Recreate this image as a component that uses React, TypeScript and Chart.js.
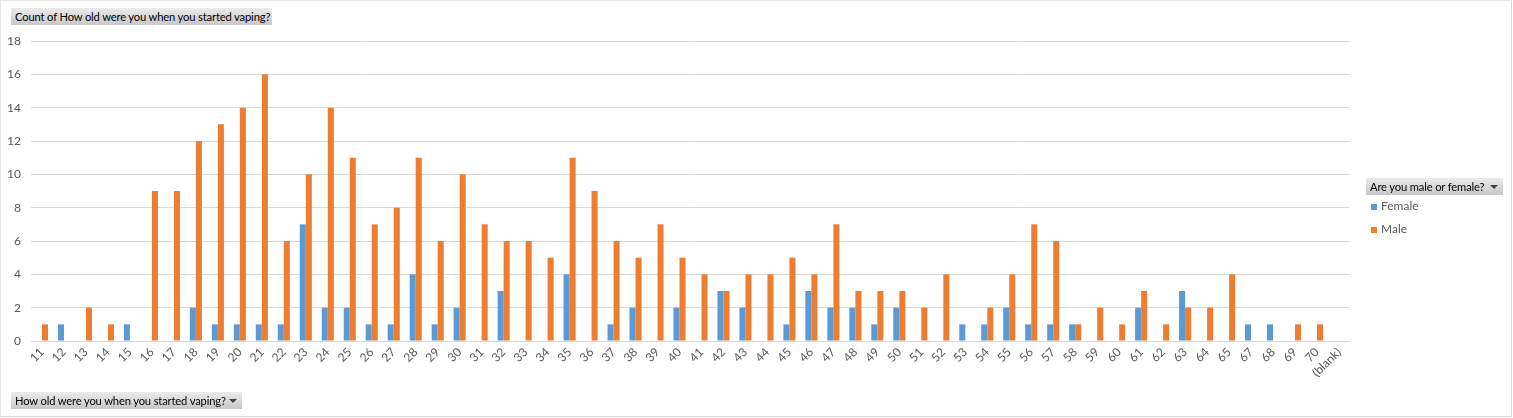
import React, { useEffect, useRef } from "react";
import { Chart, registerables } from "chart.js";

Chart.register(...registerables);

const categories: string[] = [
  "11","12","13","14","15","16","17","18","19","20",
  "21","22","23","24","25","26","27","28","29","30",
  "31","32","33","34","35","36","37","38","39","40",
  "41","42","43","44","45","46","47","48","49","50",
  "51","52","53","54","55","56","57","58","59","60",
  "61","62","63","64","65","67","68","69","70","(blank)",
];

const femaleValues: (number | null)[] = [
  null,1,null,null,1,null,null,2,1,1,
  1,1,7,2,2,1,1,4,1,2,
  null,3,null,null,4,null,1,2,null,2,
  null,3,2,null,1,3,2,2,1,2,
  null,null,1,1,2,1,1,1,null,null,
  2,null,3,null,null,1,1,null,null,null,
];

const maleValues: (number | null)[] = [
  1,null,2,1,null,9,9,12,13,14,
  16,6,10,14,11,7,8,11,6,10,
  7,6,6,5,11,9,6,5,7,5,
  4,3,4,4,5,4,7,3,3,3,
  2,4,null,2,4,7,6,1,2,1,
  3,1,2,2,4,null,null,1,1,null,
];

const yTicks: number[] = [0, 2, 4, 6, 8, 10, 12, 14, 16, 18];

const seriesNames: string[] = ["Female", "Male"];
const seriesColors: string[] = ["#5b9bd5", "#ed7d31"];

const titleText = "Count of How old were you when you started vaping?";
const axisFieldText = "How old were you when you started vaping?";
const legendFieldText = "Are you male or female?";

const FONT = "Lato, 'Liberation Sans', Arial, sans-serif";

const buttonStyle: React.CSSProperties = {
  position: "absolute",
  background: "linear-gradient(#ebebeb, #c8c8c8)",
  color: "#000",
  fontFamily: FONT,
  fontSize: 11.2,
  letterSpacing: -0.15,
  lineHeight: "17px",
  height: 17,
  boxSizing: "border-box",
  paddingLeft: 4,
  whiteSpace: "nowrap",
  overflow: "hidden",
};

const Arrow = () => (
  <span
    style={{
      position: "absolute",
      right: 5,
      top: 7,
      width: 0,
      height: 0,
      borderLeft: "4px solid transparent",
      borderRight: "4px solid transparent",
      borderTop: "4px solid #404040",
    }}
  />
);

export default function App() {
  const canvasRef = useRef<HTMLCanvasElement | null>(null);

  useEffect(() => {
    document.body.style.margin = "0";
    const canvas = canvasRef.current;
    if (!canvas) return;
    const chart = new Chart(canvas, {
      type: "bar",
      data: {
        labels: categories,
        datasets: [
          {
            label: seriesNames[0],
            data: femaleValues,
            backgroundColor: seriesColors[0],
            borderWidth: 0,
            barPercentage: 1,
            categoryPercentage: 0.55,
          },
          {
            label: seriesNames[1],
            data: maleValues,
            backgroundColor: seriesColors[1],
            borderWidth: 0,
            barPercentage: 1,
            categoryPercentage: 0.55,
          },
        ],
      },
      options: {
        responsive: false,
        animation: false,
        devicePixelRatio: 1,
        layout: { padding: { top: 41, right: 163, left: 0, bottom: 0 } },
        plugins: {
          legend: { display: false },
          tooltip: { enabled: false },
          title: { display: false },
        },
        scales: {
          x: {
            grid: { display: false, drawTicks: false },
            border: { display: false },
            ticks: {
              autoSkip: false,
              maxRotation: 45,
              minRotation: 45,
              padding: 4,
              color: "#595959",
              font: { family: FONT, size: 12 },
            },
            afterFit: (scale: any) => {
              scale.height = 77;
            },
          },
          y: {
            min: 0,
            max: 18,
            grid: { color: "#d9d9d9", drawTicks: false, lineWidth: 1 },
            border: { display: false },
            afterBuildTicks: (scale: any) => {
              scale.ticks = yTicks.map((v) => ({ value: v }));
            },
            ticks: {
              padding: 10,
              color: "#595959",
              font: { family: FONT, size: 12 },
            },
            afterFit: (scale: any) => {
              scale.width = 31;
            },
          },
        },
      },
    });
    return () => chart.destroy();
  }, []);

  return (
    <div style={{ position: "absolute", left: 0, top: 0, width: 1513, height: 418, background: "#fff" }}>
      <canvas ref={canvasRef} width={1513} height={418} style={{ position: "absolute", left: 0, top: 0, width: 1513, height: 418 }} />
      <div
        style={{
          position: "absolute",
          left: 0,
          top: 0,
          width: 1512,
          height: 417,
          border: "1px solid #d9d9d9",
          borderTopColor: "#e6e6e6",
          borderLeftColor: "#e6e6e6",
          boxSizing: "border-box",
          pointerEvents: "none",
        }}
      />
      <div style={{ ...buttonStyle, left: 11, top: 8, width: 261 }}>{titleText}</div>
      <div style={{ ...buttonStyle, left: 11, top: 392, width: 231 }}>
        {axisFieldText}
        <Arrow />
      </div>
      <div style={{ ...buttonStyle, left: 1366, top: 178, width: 137 }}>
        {legendFieldText}
        <Arrow />
      </div>
      {seriesNames.map((name, i) => (
        <div
          key={name}
          style={{
            position: "absolute",
            left: 1371,
            top: 199 + i * 23,
            height: 14,
            lineHeight: "14px",
            fontFamily: FONT,
            fontSize: 12,
            color: "#595959",
            whiteSpace: "nowrap",
          }}
        >
          <span
            style={{
              display: "inline-block",
              width: 6,
              height: 6,
              background: seriesColors[i],
              marginRight: 4,
              verticalAlign: "middle",
            }}
          />
          {name}
        </div>
      ))}
    </div>
  );
}
